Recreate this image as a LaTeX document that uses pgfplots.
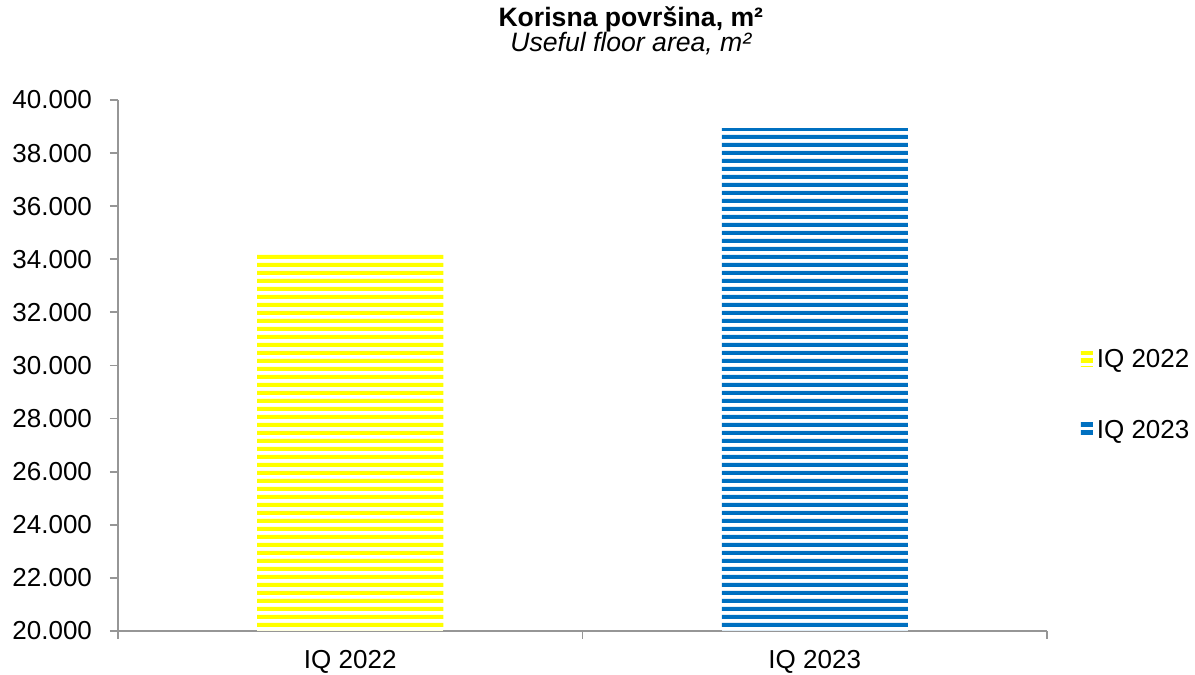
\documentclass[border=0pt]{standalone}
\usepackage{pgfplots}
\pgfplotsset{compat=1.18}
\usepackage{fontspec}
\setmainfont{Liberation Sans}
\usetikzlibrary{patterns.meta}
\definecolor{barblue}{RGB}{0,112,192}
\definecolor{baryellow}{RGB}{255,255,0}
\definecolor{axgray}{RGB}{150,150,150}
\tikzdeclarepattern{
  name=hstripes,
  type=uncolored,
  bounding box={(0pt,0pt) and (700pt,4pt)},
  tile size={(700pt,4pt)},
  code={\fill (0pt,0pt) rectangle (700pt,2.3pt);}
}
\begin{document}
\begin{tikzpicture}
\useasboundingbox (-59pt,-22pt) rectangle (538.5pt,315.5pt);
\begin{axis}[
  at={(0pt,0pt)}, anchor=south west,
  scale only axis,
  width=464.5pt, height=265.5pt,
  ymin=20000, ymax=40000,
  ytick={20000,22000,...,40000},
  xmin=-0.5, xmax=1.5,
  xtick={0,1},
  xticklabels={IQ 2022, IQ 2023},
  minor xtick={-0.5,0.5,1.5},
  axis lines=left,
  axis line style={draw=axgray, line width=0.9pt, -},
  every tick/.style={draw=axgray, line width=0.9pt},
  major x tick style={draw=none},
  tick align=outside,
  major tick length=4pt,
  minor tick length=4pt,
  ticklabel style={font=\fontsize{13}{15}\selectfont},
  /pgf/number format/assume math mode=true,
  /pgf/number format/1000 sep={.},
  scaled y ticks=false,
  yticklabel style={xshift=-5.5pt},
  xticklabel style={yshift=-2pt},
  ybar, bar width=93pt, bar shift=0pt,
  legend style={at={(1.036,0.444)}, anchor=west, draw=none, fill=none,
    font=\fontsize{13}{15}\selectfont, row sep=21pt, inner sep=0pt,
    /tikz/every even column/.append style={column sep=0pt}},
  legend cell align=left,
  legend image code/.code={\fill[#1] (0pt,-3.5pt) rectangle (6pt,4pt);},
  clip=false,
]
\addplot[draw=none, fill=white, postaction={pattern={hstripes}, pattern color=baryellow}] coordinates {(0,34250)};
\addlegendentry{IQ 2022}
\addplot[draw=none, fill=white, postaction={pattern={hstripes}, pattern color=barblue}] coordinates {(1,38930)};
\addlegendentry{IQ 2023}
\node[font=\bfseries\fontsize{13.3}{15}\selectfont] at (rel axis cs:0.552,1) [yshift=40.5pt] {Korisna površina, m²};
\node[font=\itshape\fontsize{13.3}{15}\selectfont] at (rel axis cs:0.552,1) [yshift=28pt] {Useful floor area, m²};
\end{axis}
\end{tikzpicture}
\end{document}
